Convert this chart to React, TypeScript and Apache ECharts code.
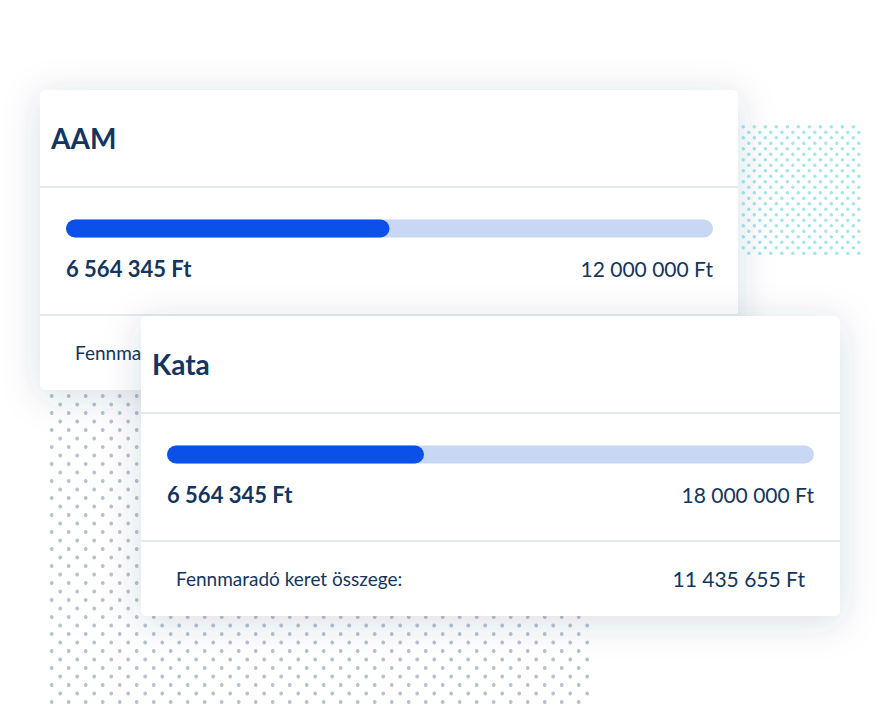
import React, { useEffect, useRef } from "react";
import * as echarts from "echarts";

// ---- data ----
const cardNames = ["AAM", "Kata"];
const usedAmounts = [6564345, 6564345];
const totalAmounts = [12000000, 18000000];
const remainingAmounts = [5435655, 11435655];
// filled length of each progress bar (in Ft)
const barFill = [6000000, 7150000];
const footerLabels = ["Fennmaradó keret összege:", "Fennmaradó keret összege:"];

// ---- layout / style ----
const W = 880;
const H = 706;
const cards = [
  { x: 40, y: 90, w: 698, h: 300 },
  { x: 141, y: 316, w: 699, h: 300 },
];
const NAVY = "#12365f";
const FONT = "Lato, 'Noto Sans', sans-serif";

const fmt = (n: number) =>
  String(n).replace(/\B(?=(\d{3})+(?!\d))/g, " ") + " Ft";

function dotField(
  x0: number,
  y0: number,
  dx: number,
  dy: number,
  rows: number,
  cols: number,
  r: number,
  color: string
) {
  const out: any[] = [];
  for (let i = 0; i < rows; i++) {
    const off = i % 2 === 1 ? dx / 2 : 0;
    for (let j = 0; j < cols; j++) {
      out.push({
        type: "circle",
        z: 0,
        silent: true,
        shape: { cx: x0 + off + j * dx, cy: y0 + i * dy, r },
        style: { fill: color },
      });
    }
  }
  return out;
}

export default function App() {
  const ref = useRef<HTMLDivElement>(null);

  useEffect(() => {
    if (!ref.current) return;
    const chart = echarts.init(ref.current, undefined, { renderer: "svg" });

    const graphics: any[] = [];
    // decorative dot patterns
    graphics.push(...dotField(51.7, 396, 17, 8.5, 37, 32, 1.9, "#b7c2cf"));
    graphics.push(...dotField(743.3, 126.7, 11, 5.5, 24, 11, 1.75, "#a3e6ef"));

    cards.forEach((c, k) => {
      const zb = 1 + k * 2;
      graphics.push({
        type: "rect",
        z: zb,
        shape: { x: c.x, y: c.y, width: c.w, height: c.h, r: 6 },
        style: {
          fill: "#ffffff",
          shadowBlur: 36,
          shadowColor: "rgba(40,60,95,0.17)",
          shadowOffsetY: 6,
        },
      });
      graphics.push({
        type: "line",
        z: zb + 1,
        shape: { x1: c.x, y1: c.y + 97, x2: c.x + c.w, y2: c.y + 97 },
        style: { stroke: "#dce3ea", lineWidth: 1.5 },
      });
      graphics.push({
        type: "line",
        z: zb + 1,
        shape: { x1: c.x, y1: c.y + 225, x2: c.x + c.w, y2: c.y + 225 },
        style: { stroke: "#dce3ea", lineWidth: 1.5 },
      });
      graphics.push({
        type: "text",
        z: zb + 1,
        style: {
          text: cardNames[k],
          x: c.x + 11,
          y: c.y + 48,
          font: `bold 28px ${FONT}`,
          fill: NAVY,
          textAlign: "left",
          textVerticalAlign: "middle",
        },
      });
      graphics.push({
        type: "text",
        z: zb + 1,
        style: {
          text: fmt(usedAmounts[k]),
          x: c.x + 26,
          y: c.y + 178,
          font: `bold 22px ${FONT}`,
          fill: NAVY,
          textAlign: "left",
          textVerticalAlign: "middle",
        },
      });
      graphics.push({
        type: "text",
        z: zb + 1,
        style: {
          text: fmt(totalAmounts[k]),
          x: c.x + 673,
          y: c.y + 178,
          font: `21px ${FONT}`,
          fill: NAVY,
          textAlign: "right",
          textVerticalAlign: "middle",
        },
      });
      graphics.push({
        type: "text",
        z: zb + 1,
        style: {
          text: footerLabels[k],
          x: c.x + 35,
          y: c.y + 262,
          font: `19px ${FONT}`,
          fill: NAVY,
          textAlign: "left",
          textVerticalAlign: "middle",
        },
      });
      graphics.push({
        type: "text",
        z: zb + 1,
        style: {
          text: fmt(remainingAmounts[k]),
          x: c.x + 664,
          y: c.y + 262,
          font: `21px ${FONT}`,
          fill: NAVY,
          textAlign: "right",
          textVerticalAlign: "middle",
        },
      });
    });

    const grids = cards.map((c) => ({
      left: c.x + 26,
      top: c.y + 129.5,
      width: 647,
      height: 18,
      containLabel: false,
    }));

    chart.setOption({
      animation: false,
      backgroundColor: "#ffffff",
      grid: grids,
      xAxis: cards.map((_, k) => ({
        type: "value",
        gridIndex: k,
        min: 0,
        max: totalAmounts[k],
        show: false,
      })),
      yAxis: cards.map((_, k) => ({
        type: "category",
        gridIndex: k,
        data: [cardNames[k]],
        show: false,
      })),
      series: cards.map((_, k) => ({
        type: "bar",
        xAxisIndex: k,
        yAxisIndex: k,
        z: 10,
        barWidth: 18,
        data: [barFill[k]],
        showBackground: true,
        backgroundStyle: { color: "#c8d7f3", borderRadius: 9 },
        itemStyle: { color: "#0b50e8", borderRadius: 9 },
        silent: true,
      })),
      graphic: { elements: graphics },
    });

    return () => chart.dispose();
  }, []);

  return (
    <div
      ref={ref}
      style={{ position: "absolute", left: 0, top: 0, width: W, height: H }}
    />
  );
}
